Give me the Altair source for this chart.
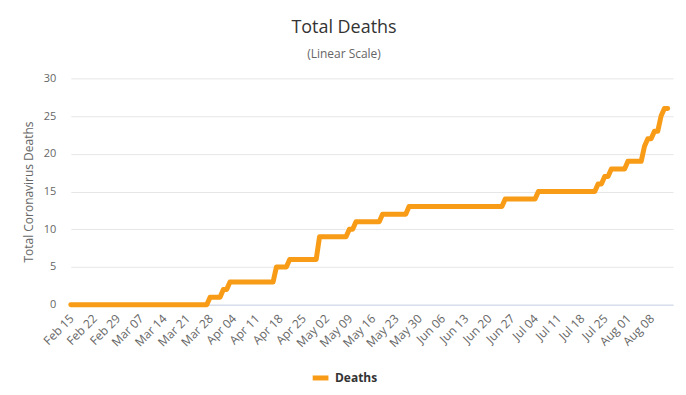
import altair as alt
import pandas as pd

# Total deaths, one value per day from Feb 15 to Aug 13 (2020)
deaths = (
    # Feb 15 - Feb 29
    [0, 0, 0, 0, 0, 0, 0, 0, 0, 0, 0, 0, 0, 0, 0]
    # Mar 01 - Mar 31
    + [0, 0, 0, 0, 0, 0, 0, 0, 0, 0, 0, 0, 0, 0, 0, 0, 0, 0, 0, 0, 0, 0, 0, 0, 0, 0, 0,
       1, 1, 1, 1]
    # Apr 01 - Apr 30
    + [2, 2, 3, 3, 3, 3, 3, 3, 3, 3, 3, 3, 3, 3, 3, 3, 5, 5, 5, 5,
       6, 6, 6, 6, 6, 6, 6, 6, 6, 9]
    # May 01 - May 31
    + [9, 9, 9, 9, 9, 9, 9, 9, 10, 10, 11, 11, 11, 11, 11, 11, 11, 11,
       12, 12, 12, 12, 12, 12, 12, 12, 13, 13, 13, 13, 13]
    # Jun 01 - Jun 30
    + [13, 13, 13, 13, 13, 13, 13, 13, 13, 13, 13, 13, 13, 13, 13, 13, 13, 13,
       13, 13, 13, 13, 13, 13, 14, 14, 14, 14, 14, 14]
    # Jul 01 - Jul 31
    + [14, 14, 14, 14, 15, 15, 15, 15, 15, 15, 15, 15, 15, 15, 15, 15, 15, 15,
       15, 15, 15, 15, 16, 16, 17, 17, 18, 18, 18, 18, 18]
    # Aug 01 - Aug 13
    + [19, 19, 19, 19, 19, 21, 22, 22, 23, 23, 25, 26, 26]
)
dates = list(pd.date_range("2020-02-15", periods=len(deaths)).strftime("%b %d"))

tick_labels = ["Feb 15", "Feb 22", "Feb 29", "Mar 07", "Mar 14", "Mar 21", "Mar 28",
               "Apr 04", "Apr 11", "Apr 18", "Apr 25", "May 02", "May 09", "May 16",
               "May 23", "May 30", "Jun 06", "Jun 13", "Jun 20", "Jun 27", "Jul 04",
               "Jul 11", "Jul 18", "Jul 25", "Aug 01", "Aug 08"]
tick_pos = [dates.index(t) for t in tick_labels]
y_ticks = [0, 5, 10, 15, 20, 25, 30]

df = pd.DataFrame({"i": list(range(len(deaths))), "date": dates,
                   "deaths": deaths, "series": ["Deaths"] * len(deaths)})

FONT = "Open Sans"
ORANGE = "#f89c17"
label_js = "[" + ",".join("'%s'" % t for t in tick_labels) + "]"

chart = alt.Chart(df).mark_line(
    strokeWidth=5, strokeJoin="round", strokeCap="round"
).encode(
    x=alt.X("i:Q",
            scale=alt.Scale(domain=[0, 181.6], nice=False, zero=False),
            axis=alt.Axis(values=tick_pos, title=None, grid=False, ticks=False,
                          labelAngle=-45, labelFontSize=12, labelColor="#666666",
                          labelFont=FONT, labelPadding=8, labelOffset=-3,
                          labelExpr=label_js + "[indexof(" + str(tick_pos) + ", datum.value)]",
                          domainColor="#ccd6eb", labelOverlap=False, labelFlush=False)),
    y=alt.Y("deaths:Q",
            scale=alt.Scale(domain=[0, 30], nice=False),
            axis=alt.Axis(values=y_ticks, title="Total Coronavirus Deaths",
                          titleFont=FONT, titleFontSize=12, titleFontWeight="normal",
                          titleColor="#666666", titlePadding=8,
                          labelFont=FONT, labelFontSize=11, labelColor="#666666",
                          labelPadding=15, ticks=False, domain=False,
                          gridColor="#e6e6e6")),
    color=alt.Color("series:N",
                    scale=alt.Scale(domain=["Deaths"], range=[ORANGE]),
                    legend=alt.Legend(title=None, orient="none", legendX=240, legendY=290,
                                      symbolType="stroke", symbolStrokeWidth=5,
                                      symbolSize=250, labelFont=FONT, labelFontSize=12,
                                      labelFontWeight="bold", labelColor="#333333")),
    tooltip=["date:N", "deaths:Q"],
).properties(
    width=604,
    height=227,
    padding={"left": 14, "top": 10, "right": 5, "bottom": 5},
    title=alt.TitleParams("Total Deaths", subtitle="(Linear Scale)", font=FONT,
                          fontSize=18, fontWeight="normal", color="#333333",
                          subtitleFont=FONT, subtitleFontSize=12,
                          subtitleColor="#666666", subtitlePadding=13,
                          anchor="middle", offset=12, dx=-28),
).configure_view(stroke=None)

chart.save("out.html", embed_options={"renderer": "svg", "actions": False})
